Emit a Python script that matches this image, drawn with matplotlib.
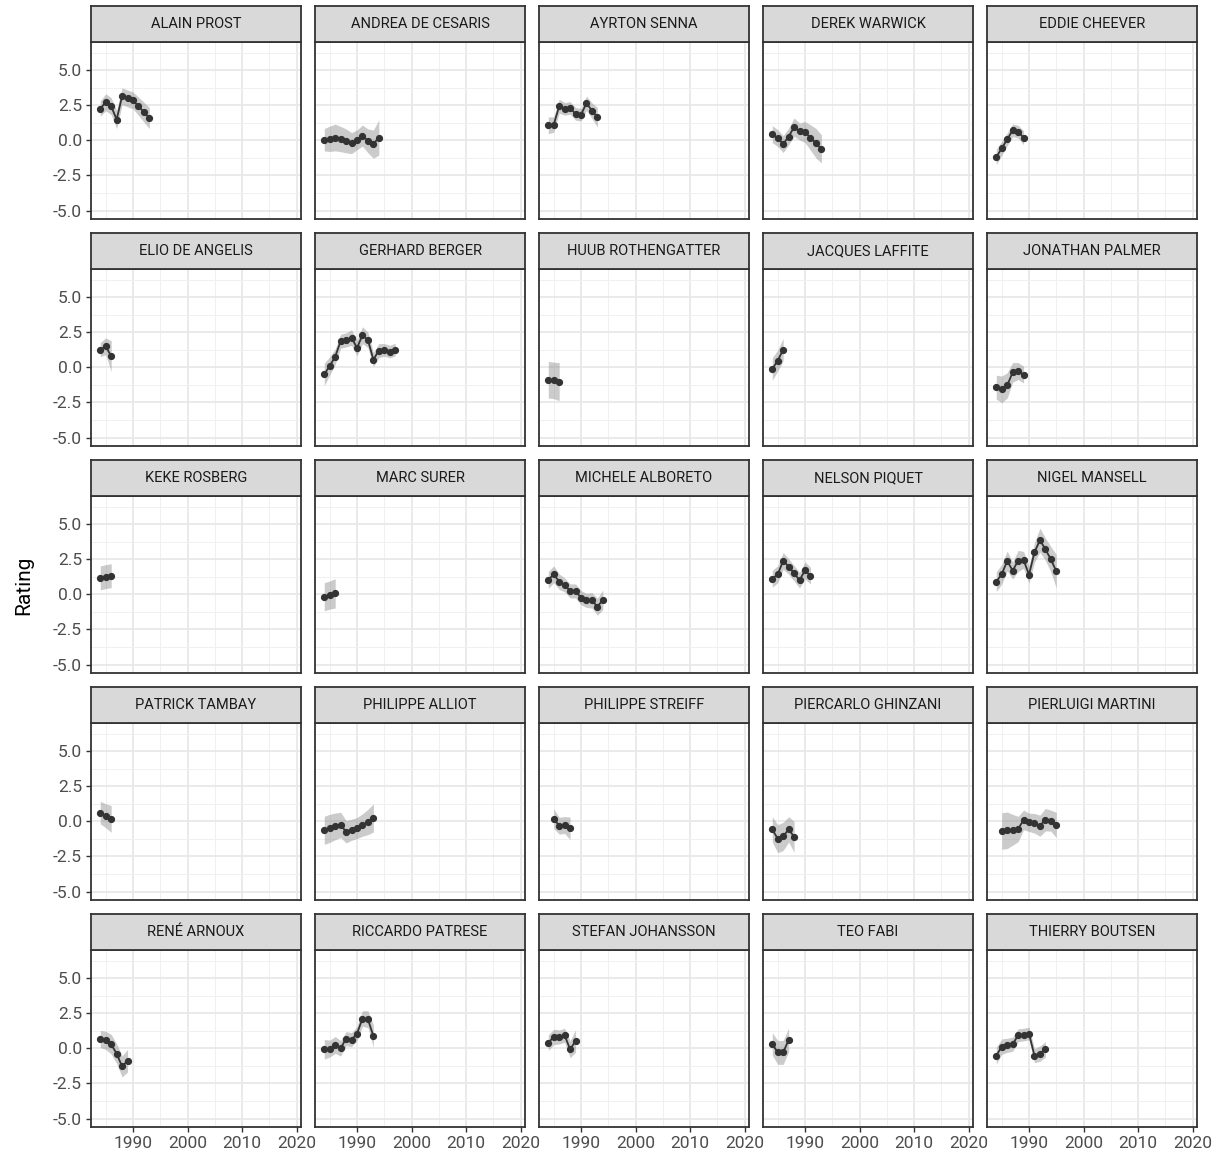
import numpy as np
import matplotlib
matplotlib.use("Agg")
import matplotlib.pyplot as plt
from matplotlib.ticker import MultipleLocator

# ==============================
# DATA
# ==============================
drivers = [
    "ALAIN PROST", "ANDREA DE CESARIS", "AYRTON SENNA", "DEREK WARWICK", "EDDIE CHEEVER",
    "ELIO DE ANGELIS", "GERHARD BERGER", "HUUB ROTHENGATTER", "JACQUES LAFFITE", "JONATHAN PALMER",
    "KEKE ROSBERG", "MARC SURER", "MICHELE ALBORETO", "NELSON PIQUET", "NIGEL MANSELL",
    "PATRICK TAMBAY", "PHILIPPE ALLIOT", "PHILIPPE STREIFF", "PIERCARLO GHINZANI", "PIERLUIGI MARTINI",
    "RENÉ ARNOUX", "RICCARDO PATRESE", "STEFAN JOHANSSON", "TEO FABI", "THIERRY BOUTSEN",
]

first_year = {
    "ALAIN PROST": 1984, "ANDREA DE CESARIS": 1984, "AYRTON SENNA": 1984, "DEREK WARWICK": 1984,
    "EDDIE CHEEVER": 1984, "ELIO DE ANGELIS": 1984, "GERHARD BERGER": 1984, "HUUB ROTHENGATTER": 1984,
    "JACQUES LAFFITE": 1984, "JONATHAN PALMER": 1984, "KEKE ROSBERG": 1984, "MARC SURER": 1984,
    "MICHELE ALBORETO": 1984, "NELSON PIQUET": 1984, "NIGEL MANSELL": 1984, "PATRICK TAMBAY": 1984,
    "PHILIPPE ALLIOT": 1984, "PHILIPPE STREIFF": 1985, "PIERCARLO GHINZANI": 1984,
    "PIERLUIGI MARTINI": 1985, "RENÉ ARNOUX": 1984, "RICCARDO PATRESE": 1984,
    "STEFAN JOHANSSON": 1984, "TEO FABI": 1984, "THIERRY BOUTSEN": 1984,
}

rating = {
    "ALAIN PROST": [2.26, 2.71, 2.43, 1.48, 3.14, 2.98, 2.84, 2.43, 2.0, 1.59],
    "ANDREA DE CESARIS": [0.04, 0.11, 0.2, 0.09, -0.04, -0.2, 0.04, 0.34, -0.04, -0.27, 0.2],
    "AYRTON SENNA": [1.07, 1.12, 2.43, 2.24, 2.31, 1.88, 1.83, 2.64, 2.12, 1.64],
    "DEREK WARWICK": [0.44, 0.16, -0.27, 0.27, 0.94, 0.63, 0.59, 0.2, -0.2, -0.61],
    "EDDIE CHEEVER": [-1.19, -0.57, 0.07, 0.71, 0.62, 0.19],
    "ELIO DE ANGELIS": [1.26, 1.5, 0.79],
    "GERHARD BERGER": [-0.5, 0.1, 0.76, 1.86, 1.95, 2.12, 1.38, 2.29, 1.95, 0.55, 1.19, 1.24, 1.12, 1.26],
    "HUUB ROTHENGATTER": [-0.88, -0.93, -1.02],
    "JACQUES LAFFITE": [-0.12, 0.48, 1.26],
    "JONATHAN PALMER": [-1.41, -1.57, -1.29, -0.36, -0.26, -0.52],
    "KEKE ROSBERG": [1.17, 1.26, 1.33],
    "MARC SURER": [-0.17, -0.05, 0.07],
    "MICHELE ALBORETO": [1.02, 1.43, 0.9, 0.67, 0.24, 0.24, -0.24, -0.43, -0.43, -0.88, -0.4],
    "NELSON PIQUET": [1.1, 1.43, 2.38, 1.98, 1.5, 1.0, 1.71, 1.33],
    "NIGEL MANSELL": [0.9, 1.43, 2.38, 1.69, 2.38, 2.45, 1.4, 2.98, 3.86, 3.21, 2.5, 1.64],
    "PATRICK TAMBAY": [0.62, 0.4, 0.17],
    "PHILIPPE ALLIOT": [-0.64, -0.5, -0.36, -0.26, -0.74, -0.6, -0.48, -0.26, -0.05, 0.24],
    "PHILIPPE STREIFF": [0.19, -0.31, -0.26, -0.5],
    "PIERCARLO GHINZANI": [-0.57, -1.24, -1.07, -0.57, -1.1],
    "PIERLUIGI MARTINI": [-0.69, -0.64, -0.6, -0.55, 0.1, -0.07, -0.14, -0.31, 0.12, 0.05, -0.26],
    "RENÉ ARNOUX": [0.67, 0.57, 0.29, -0.38, -1.29, -0.88],
    "RICCARDO PATRESE": [-0.07, -0.02, 0.24, 0.0, 0.69, 0.62, 1.05, 2.12, 2.07, 0.88],
    "STEFAN JOHANSSON": [0.4, 0.81, 0.81, 0.93, -0.07, 0.52],
    "TEO FABI": [0.31, -0.29, -0.29, 0.6],
    "THIERRY BOUTSEN": [-0.52, 0.12, 0.21, 0.29, 0.93, 0.98, 1.05, -0.52, -0.38, -0.07],
}

# half width of the grey band
band = {
    "ALAIN PROST": [0.55, 0.6, 0.6, 0.65, 0.6, 0.6, 0.6, 0.65, 0.7, 0.75],
    "ANDREA DE CESARIS": [0.8, 0.9, 0.95, 0.9, 0.85, 0.75, 0.7, 0.75, 0.85, 1.0, 1.25],
    "AYRTON SENNA": [0.6, 0.55, 0.5, 0.45, 0.45, 0.45, 0.45, 0.5, 0.55, 0.7],
    "DEREK WARWICK": [0.6, 0.6, 0.6, 0.6, 0.65, 0.6, 0.75, 0.9, 1.05, 1.0],
    "EDDIE CHEEVER": [0.55, 0.5, 0.45, 0.45, 0.45, 0.5],
    "ELIO DE ANGELIS": [0.5, 0.6, 1.1],
    "GERHARD BERGER": [0.8, 0.65, 0.55, 0.5, 0.5, 0.55, 0.55, 0.6, 0.55, 0.5, 0.5, 0.45, 0.45, 0.45],
    "HUUB ROTHENGATTER": [1.3, 1.3, 1.35],
    "JACQUES LAFFITE": [0.8, 0.75, 0.8],
    "JONATHAN PALMER": [0.85, 0.95, 0.9, 0.7, 0.6, 0.6],
    "KEKE ROSBERG": [0.85, 0.85, 0.85],
    "MARC SURER": [1.0, 1.0, 1.05],
    "MICHELE ALBORETO": [0.6, 0.6, 0.55, 0.5, 0.5, 0.5, 0.5, 0.5, 0.55, 0.6, 0.7],
    "NELSON PIQUET": [0.6, 0.6, 0.6, 0.55, 0.55, 0.55, 0.6, 0.6],
    "NIGEL MANSELL": [0.7, 0.7, 0.7, 0.6, 0.75, 0.6, 0.6, 0.7, 0.85, 0.8, 0.9, 1.2],
    "PATRICK TAMBAY": [0.8, 0.85, 0.95],
    "PHILIPPE ALLIOT": [1.0, 1.0, 0.95, 0.9, 0.8, 0.75, 0.75, 0.8, 0.9, 1.0],
    "PHILIPPE STREIFF": [0.7, 0.6, 0.6, 0.8],
    "PIERCARLO GHINZANI": [0.9, 1.0, 1.0, 0.9, 1.1],
    "PIERLUIGI MARTINI": [1.3, 1.3, 1.1, 0.9, 0.7, 0.65, 0.7, 0.75, 0.8, 0.75, 0.9],
    "RENÉ ARNOUX": [0.6, 0.65, 0.7, 0.7, 0.75, 0.8],
    "RICCARDO PATRESE": [0.7, 0.6, 0.6, 0.55, 0.5, 0.5, 0.5, 0.55, 0.6, 0.8],
    "STEFAN JOHANSSON": [0.55, 0.55, 0.5, 0.5, 0.6, 0.8],
    "TEO FABI": [0.8, 0.85, 0.85, 0.85],
    "THIERRY BOUTSEN": [0.6, 0.55, 0.5, 0.5, 0.45, 0.45, 0.45, 0.5, 0.55, 0.55],
}

x_ticks = [1990, 2000, 2010, 2020]
y_ticks = [-5.0, -2.5, 0.0, 2.5, 5.0]

# ==============================
# LAYOUT (pixels)
# ==============================
W, H = 1221, 1160
fig = plt.figure(figsize=(W / 100, H / 100), dpi=100)
plt.rcParams["font.family"] = ["Roboto", "DejaVu Sans"]

col_left = [91, 315, 539, 763, 987]
row_top = [42, 269, 496, 723, 950]
pw, ph = 210, 177
strip_h = 36

for i, name in enumerate(drivers):
    r, c = divmod(i, 5)
    x0, y0 = col_left[c], row_top[r]
    ax = fig.add_axes([x0 / W, 1 - (y0 + ph) / H, pw / W, ph / H])

    yrs = first_year[name] + np.arange(len(rating[name]))
    val = np.array(rating[name])
    se = np.array(band[name])

    ax.fill_between(yrs, val - se, val + se, color="#8c8c8c", alpha=0.45, lw=0, zorder=2)
    ax.plot(yrs, val, color="#333333", lw=1.3, marker="o", ms=4.2, zorder=3)

    ax.set_xlim(1982.3, 2020.8)
    ax.set_ylim(-5.6, 7.0)
    ax.set_xticks(x_ticks)
    ax.set_yticks(y_ticks)
    ax.xaxis.set_minor_locator(MultipleLocator(5))
    ax.yaxis.set_minor_locator(MultipleLocator(1.25))
    ax.grid(which="major", color="#e8e8e8", lw=1.3, zorder=0)
    ax.grid(which="minor", color="#f0f0f0", lw=0.7, zorder=0)
    ax.set_axisbelow(True)
    for s in ax.spines.values():
        s.set_color("#333333")
        s.set_linewidth(1.3)
    ax.tick_params(which="minor", length=0)
    ax.tick_params(which="major", length=3.5, width=1.0, color="#333333",
                   labelcolor="#4d4d4d", labelsize=12.5, pad=3)
    ax.tick_params(axis="x", bottom=(r == 4), labelbottom=(r == 4))
    ax.tick_params(axis="y", left=(c == 0), labelleft=(c == 0))
    if c == 0:
        ax.set_yticklabels(["-5.0", "-2.5", "0.0", "2.5", "5.0"])

    # strip
    sax = fig.add_axes([x0 / W, 1 - (y0) / H, pw / W, strip_h / H])
    sax.set_facecolor("#d9d9d9")
    sax.set_xticks([])
    sax.set_yticks([])
    for s in sax.spines.values():
        s.set_color("#333333")
        s.set_linewidth(1.3)
    sax.text(0.5, 0.5, name, ha="center", va="center", fontsize=10.5,
             color="#1a1a1a", transform=sax.transAxes)

fig.text(24 / W, 1 - 585 / H, "Rating", rotation=90, ha="center", va="center", fontsize=15)

fig.savefig("out.png", dpi=100)
